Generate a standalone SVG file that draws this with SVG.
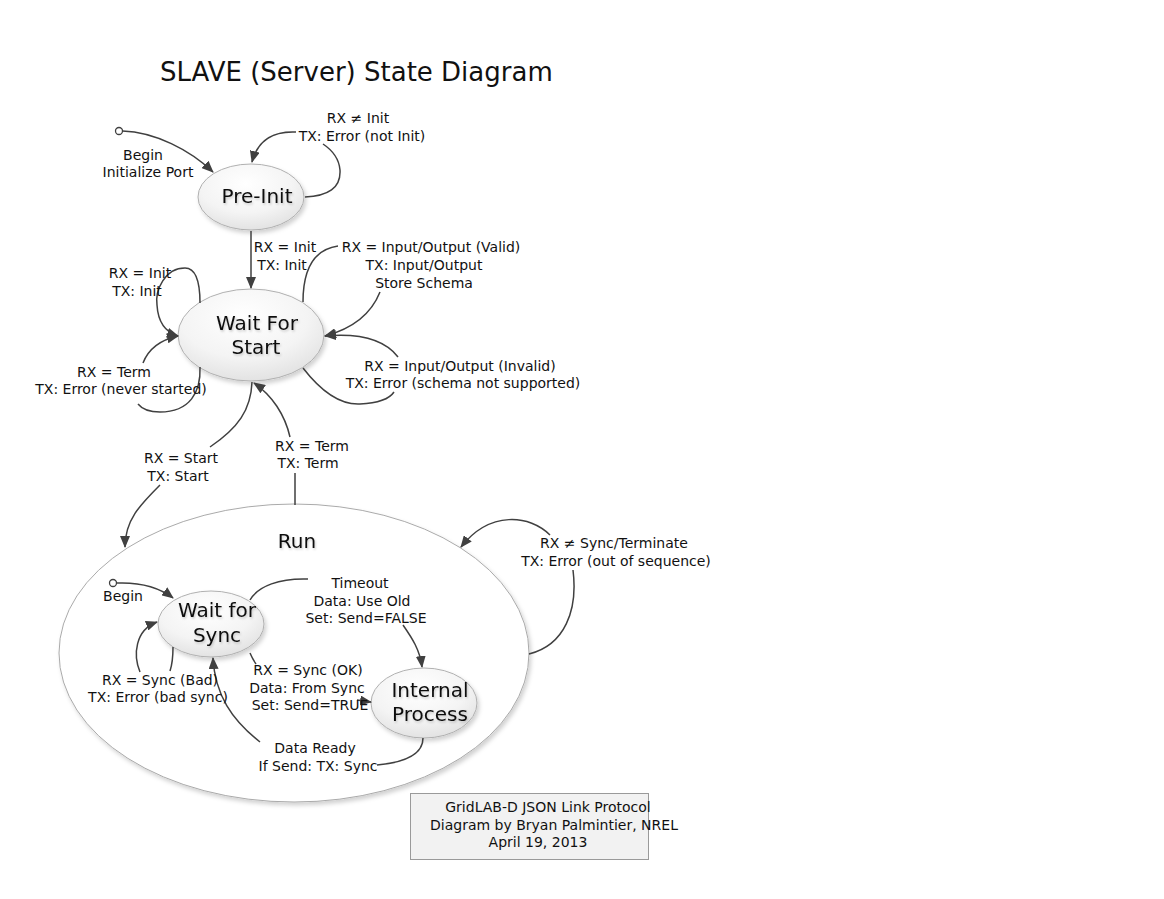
<svg xmlns="http://www.w3.org/2000/svg" width="1164" height="899" viewBox="0 0 1164 899">
<style>
  .lbl { font-family: "DejaVu Sans", sans-serif; font-size: 14px; fill: #111; text-anchor: middle; }
  .ntx { font-family: "DejaVu Sans", sans-serif; font-size: 20px; fill: #111; text-anchor: middle; }
  .title { font-family: "DejaVu Sans", sans-serif; font-size: 26px; fill: #111; }
  .node { fill: url(#ng); stroke: #b0b0b0; stroke-width: 1; filter: url(#sh); }
  .conn { fill: none; stroke: #404040; stroke-width: 1.5; }
  .arr { marker-end: url(#ah); }
</style>
<defs>
  <radialGradient id="ng" cx="0.45" cy="0.3" r="0.8">
    <stop offset="0" stop-color="#ffffff"/>
    <stop offset="0.55" stop-color="#f4f4f4"/>
    <stop offset="1" stop-color="#dcdcdc"/>
  </radialGradient>
  <filter id="sh" x="-20%" y="-20%" width="150%" height="150%">
    <feDropShadow dx="2" dy="3" stdDeviation="2" flood-color="#000" flood-opacity="0.18"/>
  </filter>
  <filter id="tsh" x="-10%" y="-10%" width="130%" height="140%">
    <feDropShadow dx="1" dy="1.5" stdDeviation="0.8" flood-color="#000" flood-opacity="0.2"/>
  </filter>
  <marker id="ah" markerUnits="userSpaceOnUse" markerWidth="12" markerHeight="10" refX="11" refY="5" orient="auto">
    <path d="M0,0 L12,5 L0,10 Z" fill="#404040"/>
  </marker>
</defs>
<rect width="1164" height="899" fill="#ffffff"/>
<text class="title" x="160" y="81">SLAVE (Server) State Diagram</text>

<g id="node-run">
  <ellipse cx="294" cy="653" rx="235" ry="149" fill="#ffffff" stroke="#aaaaaa" stroke-width="1" filter="url(#sh)"/>
  <text class="ntx" x="297" y="548" filter="url(#tsh)">Run</text>
</g>
<g id="node-preinit">
  <ellipse class="node" cx="251" cy="197" rx="53" ry="33"/>
  <text class="ntx" x="257" y="203" filter="url(#tsh)">Pre-Init</text>
</g>
<g id="node-waitforstart">
  <ellipse class="node" cx="251" cy="335" rx="73" ry="46"/>
  <text class="ntx" x="257" y="330" filter="url(#tsh)">Wait For</text>
  <text class="ntx" x="256" y="354" filter="url(#tsh)">Start</text>
</g>
<g id="node-waitforsync">
  <ellipse class="node" cx="211" cy="624" rx="53" ry="33"/>
  <text class="ntx" x="217" y="617" filter="url(#tsh)">Wait for</text>
  <text class="ntx" x="217" y="642" filter="url(#tsh)">Sync</text>
</g>
<g id="node-internalprocess">
  <ellipse class="node" cx="424" cy="703" rx="53" ry="35"/>
  <text class="ntx" x="430" y="697" filter="url(#tsh)">Internal</text>
  <text class="ntx" x="430" y="721" filter="url(#tsh)">Process</text>
</g>
<g id="node-footer">
  <rect x="410.5" y="793.5" width="238" height="66" fill="#f2f2f2" stroke="#9a9a9a" stroke-width="1"/>
  <text class="lbl" x="548" y="812">GridLAB-D JSON Link Protocol</text>
  <text class="lbl" x="554" y="830">Diagram by Bryan Palmintier, NREL</text>
  <text class="lbl" x="538" y="847">April 19, 2013</text>
</g>

<g id="connectors">
  <circle cx="119" cy="131" r="3.5" fill="#fff" stroke="#404040" stroke-width="1.3"/>
  <path class="conn arr" d="M122.5,131 C155,132 190,150 213,172"/>
  <path class="conn arr" d="M305,197 C328,196 341,188 340,170 C339,158 332,150 323,144 M296,132 C275,131 258,139 252,162"/>
  <path class="conn arr" d="M251,231 L251,288"/>
  <path class="conn arr" d="M200,303 C200,285 197,268 185,268 C165,268 155,290 157,305 C158,322 165,332 178,336"/>
  <path class="conn arr" d="M200,367 C201,392 190,412 160,412 C150,412 142,409 138,404 M143,363 C148,350 160,340 178,336"/>
  <path class="conn arr" d="M303,302 C303,275 310,250 338,246 M380,292 C372,312 355,328 325,336"/>
  <path class="conn arr" d="M303,368 C320,390 340,405 360,404 C380,403 390,398 394,392 M398,357 C385,340 360,333 325,336"/>
  <path class="conn arr" d="M252,382 C251,410 238,428 210,447 M160,485 C140,505 125,520 125,547"/>
  <path class="conn arr" d="M295,505 L295,473 M290,437 C285,415 272,395 254,383"/>
  <path class="conn arr" d="M529,654 C565,645 578,610 573,570 M550,535 C530,515 490,510 461,547"/>
  <circle cx="113" cy="583" r="3.5" fill="#fff" stroke="#404040" stroke-width="1.3"/>
  <path class="conn arr" d="M116.5,583 C140,582 160,588 173,598"/>
  <path class="conn arr" d="M173,647 C173,658 172,665 170,671 M140,672 C133,655 135,630 157,622"/>
  <path class="conn arr" d="M250,600 C258,586 280,578 308,579 M403,625 C412,638 420,650 422,667"/>
  <path class="conn arr" d="M250,653 C252,658 254,661 256,664 M357,700 L371,702"/>
  <path class="conn arr" d="M423,738 C423,752 410,762 377,765 M260,742 C232,720 215,695 213,658"/>
</g>

<g id="labels">
  <text class="lbl" x="143" y="160">Begin</text>
  <text class="lbl" x="148" y="177">Initialize Port</text>
  <text class="lbl" x="358" y="123">RX ≠ Init</text>
  <text class="lbl" x="362" y="141">TX: Error (not Init)</text>
  <text class="lbl" x="285" y="252">RX = Init</text>
  <text class="lbl" x="282" y="270">TX: Init</text>
  <text class="lbl" x="140" y="278">RX = Init</text>
  <text class="lbl" x="137" y="296">TX: Init</text>
  <text class="lbl" x="431" y="252">RX = Input/Output (Valid)</text>
  <text class="lbl" x="424" y="270">TX: Input/Output</text>
  <text class="lbl" x="424" y="288">Store Schema</text>
  <text class="lbl" x="114" y="377">RX = Term</text>
  <text class="lbl" x="121" y="394">TX: Error (never started)</text>
  <text class="lbl" x="460" y="371">RX = Input/Output (Invalid)</text>
  <text class="lbl" x="463" y="388">TX: Error (schema not supported)</text>
  <text class="lbl" x="181" y="463">RX = Start</text>
  <text class="lbl" x="178" y="481">TX: Start</text>
  <text class="lbl" x="312" y="451">RX = Term</text>
  <text class="lbl" x="308" y="468">TX: Term</text>
  <text class="lbl" x="614" y="548">RX ≠ Sync/Terminate</text>
  <text class="lbl" x="616" y="566">TX: Error (out of sequence)</text>
  <text class="lbl" x="123" y="601">Begin</text>
  <text class="lbl" x="360" y="588">Timeout</text>
  <text class="lbl" x="362" y="606">Data: Use Old</text>
  <text class="lbl" x="366" y="623">Set: Send=FALSE</text>
  <text class="lbl" x="160" y="685">RX = Sync (Bad)</text>
  <text class="lbl" x="158" y="702">TX: Error (bad sync)</text>
  <text class="lbl" x="308" y="675">RX = Sync (OK)</text>
  <text class="lbl" x="307" y="693">Data: From Sync</text>
  <text class="lbl" x="310" y="710">Set: Send=TRUE</text>
  <text class="lbl" x="315" y="753">Data Ready</text>
  <text class="lbl" x="318" y="771">If Send: TX: Sync</text>
</g>
</svg>
